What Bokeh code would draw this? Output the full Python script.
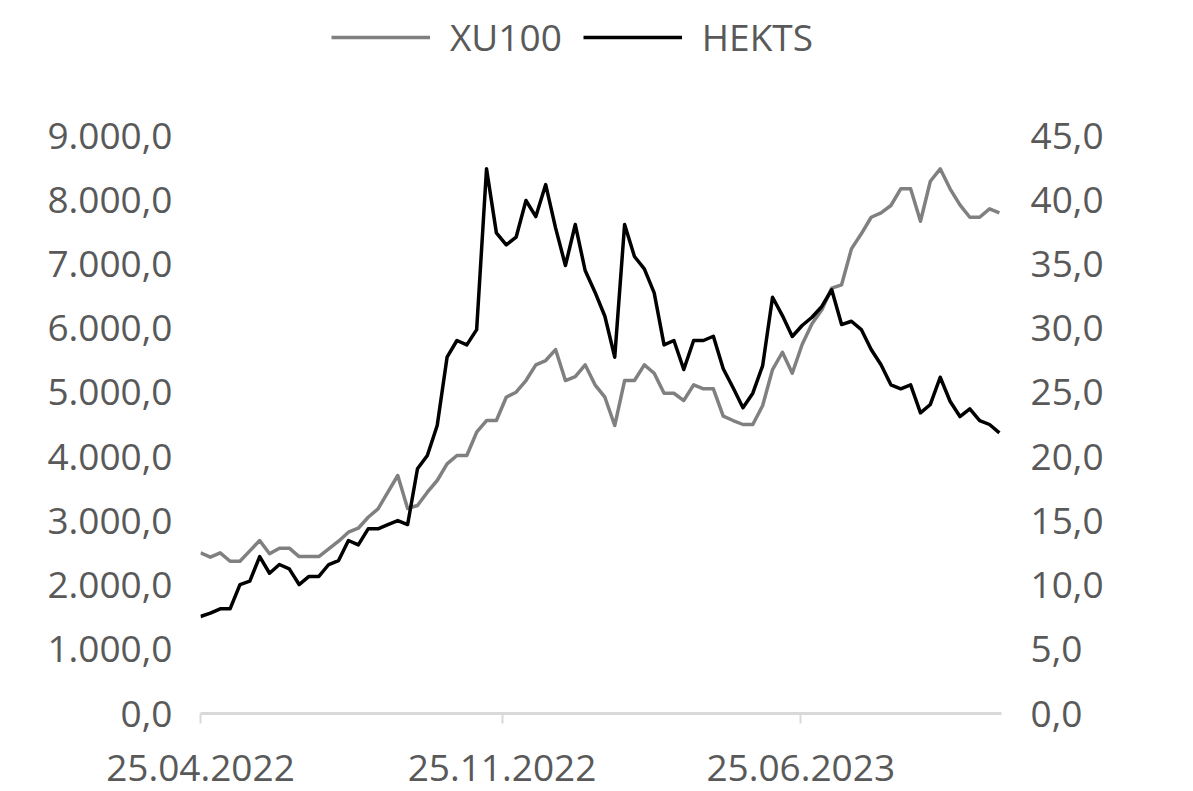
import pandas as pd
from bokeh.plotting import figure
from bokeh.models import (Range1d, LinearAxis, FixedTicker, DatetimeTickFormatter,
                          CustomJSTickFormatter, Legend, LegendItem)
from bokeh.embed import file_html
from bokeh.resources import INLINE

# ---- data (weekly) ----
start_date = "2022-04-25"
xu100 = [2502, 2434, 2502, 2371, 2371, 2532, 2694, 2487, 2574, 2574,
         2444, 2444, 2444, 2564, 2683, 2823, 2885, 3056, 3187, 3446,
         3706, 3192, 3239, 3446, 3628, 3888, 4017, 4017, 4380, 4562,
         4562, 4925, 5003, 5185, 5429, 5496, 5667, 5185, 5247, 5429,
         5118, 4925, 4484, 5185, 5185, 5429, 5298, 4987, 4987, 4873,
         5118, 5056, 5056, 4629, 4562, 4500, 4500, 4796, 5356, 5625,
         5298, 5745, 6068, 6286, 6622, 6675, 7235, 7469, 7727, 7796,
         7910, 8170, 8170, 7665, 8288, 8481, 8170, 7921, 7727, 7727,
         7858, 7796]
hekts = [7.55, 7.81, 8.15, 8.15, 10.04, 10.30, 12.22, 10.92, 11.60, 11.26,
         10.04, 10.67, 10.67, 11.60, 11.91, 13.47, 13.13, 14.38, 14.38, 14.71,
         15.02, 14.71, 19.05, 20.09, 22.42, 27.74, 29.04, 28.70, 29.89, 42.41,
         37.42, 36.49, 37.08, 39.94, 38.69, 41.18, 37.81, 34.88, 38.07, 34.49,
         32.80, 30.93, 27.74, 38.07, 35.58, 34.62, 32.75, 28.70, 29.04, 26.78,
         29.04, 29.04, 29.37, 26.84, 25.36, 23.80, 24.94, 27.09, 32.41, 30.98,
         29.35, 30.21, 30.85, 31.69, 32.99, 30.28, 30.54, 29.89, 28.34, 27.15,
         25.59, 25.28, 25.59, 23.41, 24.06, 26.18, 24.31, 23.12, 23.72, 22.81,
         22.50, 21.85]
x_tick_labels = ["25.04.2022", "25.11.2022", "25.06.2023"]
left_ticks = [0, 1000, 2000, 3000, 4000, 5000, 6000, 7000, 8000, 9000]
right_ticks = [0, 5, 10, 15, 20, 25, 30, 35, 40, 45]
series_names = ["XU100", "HEKTS"]
series_colors = ["#808080", "#000000"]

dates = pd.date_range(start_date, periods=len(xu100), freq="7D")
x_ticks_dt = pd.to_datetime(x_tick_labels, format="%d.%m.%Y")
x_ticks_ms = [int(t.value // 10**6) for t in x_ticks_dt]

FONT = "Open Sans"
TXT = "#595959"
FS = "37px"

W, H = 1193, 791
# plot frame spans up to the top of the canvas so the legend (inside the
# frame) is not clipped; the value axes keep the reference scale because
# the ranges are extended in the same proportion (0 -> y 713, max tick -> y 135)
FRAME_BOTTOM, TICK_TOP = 713, 135
ext = FRAME_BOTTOM / (FRAME_BOTTOM - TICK_TOP)

p = figure(width=W, height=H, x_axis_type="datetime",
           output_backend="svg", toolbar_location=None,
           x_range=Range1d(dates[0], dates[-1] + pd.Timedelta(days=1.5)),
           y_range=Range1d(0, left_ticks[-1] * ext),
           min_border_left=200, min_border_right=W - 1001,
           min_border_top=0, min_border_bottom=H - FRAME_BOTTOM)
p.outline_line_color = None
p.xgrid.grid_line_color = None
p.ygrid.grid_line_color = None
p.background_fill_color = "white"
p.border_fill_color = "white"

p.extra_y_ranges = {"right": Range1d(0, right_ticks[-1] * ext)}

r1 = p.line(dates, xu100, line_color=series_colors[0], line_width=3.5,
            line_join="round")
r2 = p.line(dates, hekts, line_color=series_colors[1], line_width=3.5,
            line_join="round", y_range_name="right")

fmt_js = """
const s = tick.toFixed(1).split('.');
const ip = s[0].replace(/\\B(?=(\\d{3})+(?!\\d))/g, '.');
return ip + ',' + s[1];
"""

# left axis
ya = p.yaxis[0]
ya.ticker = FixedTicker(ticks=left_ticks)
ya.formatter = CustomJSTickFormatter(code=fmt_js)
ya.axis_line_color = None
ya.major_tick_line_color = None
ya.minor_tick_line_color = None
ya.major_tick_out = 0
ya.major_tick_in = 0
ya.minor_tick_out = 0
ya.major_label_standoff = 28
ya.major_label_text_font = FONT
ya.major_label_text_font_size = FS
ya.major_label_text_color = TXT

# right axis
ra = LinearAxis(y_range_name="right", ticker=FixedTicker(ticks=right_ticks),
                formatter=CustomJSTickFormatter(code=fmt_js))
ra.axis_line_color = None
ra.major_tick_line_color = None
ra.minor_tick_line_color = None
ra.major_tick_out = 0
ra.major_tick_in = 0
ra.minor_tick_out = 0
ra.major_label_standoff = 29
ra.major_label_text_font = FONT
ra.major_label_text_font_size = FS
ra.major_label_text_color = TXT
p.add_layout(ra, "right")

# bottom axis
xa = p.xaxis[0]
xa.ticker = FixedTicker(ticks=x_ticks_ms)
fmt = "%d.%m.%Y"
xa.formatter = DatetimeTickFormatter(microseconds=fmt, milliseconds=fmt, seconds=fmt,
                                     minsec=fmt, minutes=fmt, hourmin=fmt, hours=fmt,
                                     days=fmt, months=fmt, years=fmt)
xa.axis_line_color = "#d9d9d9"
xa.axis_line_width = 3
xa.major_tick_line_color = "#d9d9d9"
xa.major_tick_line_width = 2
xa.major_tick_out = 10
xa.major_tick_in = 0
xa.minor_tick_out = 0
xa.minor_tick_line_color = None
xa.major_label_standoff = 31
xa.major_label_text_font = FONT
xa.major_label_text_font_size = FS
xa.major_label_text_color = TXT

legend = Legend(items=[LegendItem(label=series_names[0], renderers=[r1]),
                       LegendItem(label=series_names[1], renderers=[r2])],
                orientation="horizontal", location=(131, FRAME_BOTTOM - 62),
                glyph_width=99, glyph_height=50, label_standoff=20, spacing=21,
                padding=0, margin=0, border_line_color=None,
                background_fill_alpha=0,
                label_text_font=FONT, label_text_font_size=FS,
                label_text_color=TXT)
p.add_layout(legend)

open("out.html", "w").write(file_html(p, INLINE))
